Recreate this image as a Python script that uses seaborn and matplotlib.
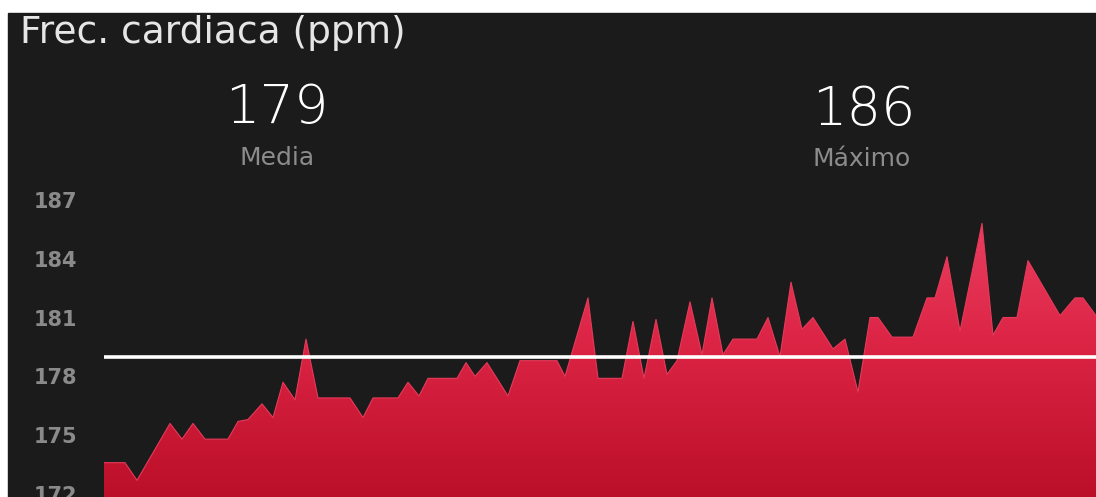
import numpy as np
import matplotlib.pyplot as plt
import seaborn as sns
from matplotlib.colors import LinearSegmentedColormap
from matplotlib.patches import Rectangle

# Heart rate samples (x = progress of the session, 0..99)
t = [0, 2.1, 3.3, 6.6, 7.8, 8.9, 10.1, 12.4, 13.4, 14.4, 15.8, 16.9, 17.9, 19.1,
     20.2, 21.4, 24.6, 25.9, 26.9, 29.4, 30.4, 31.5, 32.4, 35.3, 36.2, 37.1, 38.3,
     40.4, 41.6, 45.3, 46.1, 48.4, 49.4, 51.8, 52.9, 54.0, 55.2, 56.3, 57.3, 58.6,
     59.8, 60.8, 61.9, 62.9, 65.3, 66.4, 67.6, 68.7, 69.8, 70.9, 72.9, 74.1, 75.4,
     76.6, 77.4, 78.8, 80.9, 82.3, 83.1, 84.3, 85.6, 87.8, 88.9, 89.9, 91.3, 92.4,
     95.6, 97.1, 97.9, 99.2]
bpm = [173.6, 173.6, 172.7, 175.6, 174.8, 175.6, 174.8, 174.8, 175.7, 175.8, 176.6,
       175.9, 177.7, 176.8, 179.9, 176.9, 176.9, 175.9, 176.9, 176.9, 177.7, 177.0,
       177.9, 177.9, 178.7, 178.0, 178.7, 177.0, 178.8, 178.8, 178.0, 182.0, 177.9,
       177.9, 180.8, 177.9, 180.9, 178.1, 178.8, 181.8, 179.1, 182.0, 179.1, 179.9,
       179.9, 181.0, 179.0, 182.8, 180.4, 181.0, 179.4, 179.9, 177.2, 181.0, 181.0,
       180.0, 180.0, 182.0, 182.0, 184.1, 180.3, 185.8, 180.1, 181.0, 181.0, 183.9,
       181.1, 182.0, 182.0, 181.1]
y_ticks = [172, 175, 178, 181, 184, 187]
media = 179
maximo = 186

bg = '#1b1b1b'
sns.set_style('dark', {'axes.facecolor': bg, 'figure.facecolor': 'white'})
plt.rcParams['font.family'] = ['DejaVu Sans']

fig = plt.figure(figsize=(10.96, 4.97), dpi=100)
fig.add_artist(Rectangle((8 / 1096, 0), 1, 1 - 13 / 497, transform=fig.transFigure,
                         color=bg, zorder=-5))
ax = fig.add_axes([104 / 1096, 0, 1 - 104 / 1096, (497 - 190) / 497])

ylo, yhi = 171.85, 187.5

# gradient fill under the curve
cmap = LinearSegmentedColormap.from_list('hr', ['#bb0f28', '#dc2445', '#ee4566'])
grad = np.linspace(0, 1, 256).reshape(-1, 1)
area = ax.fill_between(t, bpm, ylo, color='none', lw=0)
img = ax.imshow(grad, extent=[t[0], t[-1], ylo, yhi], origin='lower', cmap=cmap,
                aspect='auto', zorder=1)
img.set_clip_path(area.get_paths()[0], ax.transData)
sns.lineplot(x=t, y=bpm, color='#e63a5a', lw=0.8, ax=ax, zorder=2)

ax.axhline(media, color='white', lw=2.6, zorder=3)

ax.set_xlim(t[0], t[-1])
ax.set_ylim(ylo, yhi)
ax.set_xticks([])
ax.set_yticks(y_ticks)
ax.tick_params(axis='y', colors='#8a8a8a', labelsize=15, pad=19, length=0)
for lab in ax.get_yticklabels():
    lab.set_fontweight('bold')
ax.set_xlabel('')
ax.set_ylabel('')
ax.grid(False)
for s in ax.spines.values():
    s.set_visible(False)

# header texts
fig.text(20 / 1096, 1 - 43 / 497, 'Frec. cardiaca (ppm)', color='#e6e6e6',
         fontsize=27, va='baseline', ha='left')
fig.text(277 / 1096, 1 - 123 / 497, str(media), color='white', fontsize=39,
         fontweight='light', va='baseline', ha='center')
fig.text(277 / 1096, 1 - 165 / 497, 'Media', color='#8c8c8c', fontsize=18,
         va='baseline', ha='center')
fig.text(864 / 1096, 1 - 125 / 497, str(maximo), color='white', fontsize=39,
         fontweight='light', va='baseline', ha='center')
fig.text(862 / 1096, 1 - 166 / 497, 'Máximo', color='#8c8c8c', fontsize=18,
         va='baseline', ha='center')

fig.savefig('out.png', dpi=100)
